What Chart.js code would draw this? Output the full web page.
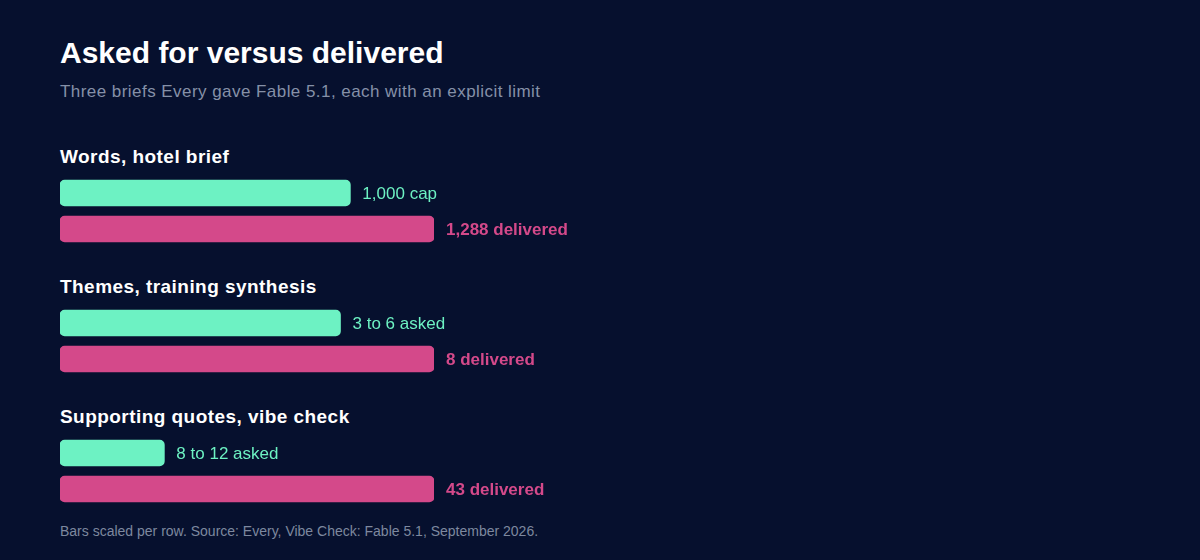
<!DOCTYPE html>
<html>
<head>
<meta charset="utf-8">
<script src="https://cdn.jsdelivr.net/npm/chart.js@4.4.1/dist/chart.umd.min.js"></script>
<style>
  html, body { margin: 0; padding: 0; }
  body {
    width: 1200px; height: 560px; overflow: hidden;
    background: #06102e;
    font-family: "Liberation Sans", Arial, Helvetica, sans-serif;
    position: relative;
  }
  .title { position: absolute; left: 60px; top: 36px; color: #ffffff; font-size: 30px; font-weight: bold; line-height: 34px; }
  .subtitle { position: absolute; left: 60px; top: 82px; color: #8590a8; font-size: 17px; letter-spacing: 0.45px; line-height: 20px; }
  .rowhead { position: absolute; left: 60px; color: #ffffff; font-size: 19px; letter-spacing: 0.45px; font-weight: bold; line-height: 22px; }
  .rowchart { position: absolute; left: 60px; }
  .footer { position: absolute; left: 60px; top: 522px; color: #7d889f; font-size: 14px; line-height: 18px; }
</style>
</head>
<body>
<div class="title">Asked for versus delivered</div>
<div class="subtitle">Three briefs Every gave Fable 5.1, each with an explicit limit</div>
<div id="rows"></div>
<div class="footer">Bars scaled per row. Source: Every, Vibe Check: Fable 5.1, September 2026.</div>

<script>
// data
const rowTitles = ['Words, hotel brief', 'Themes, training synthesis', 'Supporting quotes, vibe check'];
const askedValues = [1000, 6, 12];      // upper end of what was asked
const deliveredValues = [1288, 8, 43];
const askedLabels = ['1,000 cap', '3 to 6 asked', '8 to 12 asked'];
const deliveredLabels = ['1,288 delivered', '8 delivered', '43 delivered'];

const green = '#6df2c3';
const pink = '#d4498a';

// draws the text next to each bar
const barLabels = {
    id: 'barLabels',
    afterDatasetsDraw(chart, args, opts) {
        let ctx = chart.ctx;
        let meta = chart.getDatasetMeta(0);
        ctx.save();
        ctx.textBaseline = 'middle';
        meta.data.forEach((bar, j) => {
            ctx.fillStyle = j == 0 ? green : pink;
            ctx.font = (j == 0 ? 'normal' : 'bold') + ' 17px "Liberation Sans", Arial, sans-serif';
            ctx.fillText(opts.texts[j], bar.x + 12, bar.y + 1);
        });
        ctx.restore();
    }
};

let rows = document.getElementById('rows');
rowTitles.forEach((t, i) => {
    let top = 150 + i * 130;

    let head = document.createElement('div');
    head.className = 'rowhead';
    head.style.top = (top - 4) + 'px';
    head.textContent = t;
    rows.appendChild(head);

    let canvas = document.createElement('canvas');
    canvas.className = 'rowchart';
    canvas.width = 600;
    canvas.height = 72;
    canvas.style.top = (top + 25) + 'px';
    rows.appendChild(canvas);

    new Chart(canvas, {
        type: 'bar',
        data: {
            labels: ['asked', 'delivered'],
            datasets: [{
                data: [askedValues[i], deliveredValues[i]],
                backgroundColor: [green, pink],
                barThickness: 26,
                borderRadius: 5,
                borderSkipped: false
            }]
        },
        options: {
            indexAxis: 'y',
            responsive: false,
            animation: false,
            layout: { padding: { left: 0, right: 226, top: 0, bottom: 0 } },
            scales: {
                x: { display: false, min: 0, max: deliveredValues[i] },
                y: { display: false }
            },
            plugins: {
                legend: { display: false },
                tooltip: { enabled: false },
                barLabels: { texts: [askedLabels[i], deliveredLabels[i]] }
            }
        },
        plugins: [barLabels]
    });
});
</script>
</body>
</html>
